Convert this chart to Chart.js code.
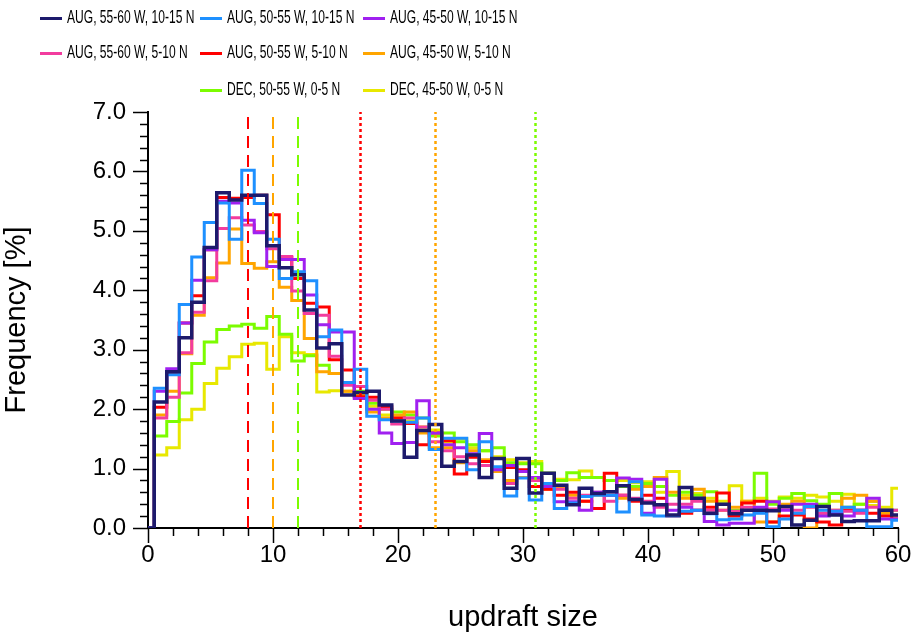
<!DOCTYPE html>
<html>
<head>
<meta charset="utf-8">
<script src="https://cdn.jsdelivr.net/npm/chart.js@4.4.1/dist/chart.umd.min.js"></script>
<style>
  body { margin: 0; background: #fff; font-family: "Liberation Sans", Arial, sans-serif; }
  #wrap { position: relative; width: 916px; height: 635px; }
  #legend { position: absolute; left: 0; top: 0; width: 916px; height: 110px; }
  .item { position: absolute; height: 20px; white-space: nowrap; }
  .item i { position: absolute; left: 0; top: -1px; width: 22px; height: 3px; }
  .item span { position: absolute; left: 27px; top: -12px; font-size: 19px; line-height: 22px; color: #000;
               transform: scaleX(0.635); transform-origin: 0 50%; }
</style>
</head>
<body>
<div id="wrap">
  <canvas id="myChart" width="916" height="635"></canvas>
  <div id="legend"></div>
</div>
<script>
// bin centres (updraft size)
const updraftSize = [0, 1, 2, 3, 4, 5, 6, 7, 8, 9, 10, 11, 12, 13, 14, 15, 16, 17, 18, 19, 20,
  21, 22, 23, 24, 25, 26, 27, 28, 29, 30, 31, 32, 33, 34, 35, 36, 37, 38, 39, 40,
  41, 42, 43, 44, 45, 46, 47, 48, 49, 50, 51, 52, 53, 54, 55, 56, 57, 58, 59, 60];

const labels = [
  "AUG, 55-60 W, 10-15 N", "AUG, 50-55 W, 10-15 N", "AUG, 45-50 W, 10-15 N",
  "AUG, 55-60 W, 5-10 N", "AUG, 50-55 W, 5-10 N", "AUG, 45-50 W, 5-10 N",
  "DEC, 50-55 W, 0-5 N", "DEC, 45-50 W, 0-5 N"
];
const colors = ["#1d1a6c", "#1e90ff", "#a020f0", "#f23c9e", "#ff0000", "#ffa500", "#7cfc00", "#e8e800"];

// frequency [%]
const aug5560n1015 = [0, 2.12, 2.63, 3.2, 3.8, 4.72, 5.64, 5.52, 5.6, 5.6, 4.75, 4.38, 4.26, 3.67, 3.03, 3.1,
  2.24, 2.28, 2.3, 2.07, 1.8, 1.19, 1.64, 1.74, 1.04, 1.12, 1.23, 0.85, 1.17, 0.67, 1.17,
  0.59, 0.92, 0.72, 0.39, 0.67, 0.58, 0.61, 0.71, 0.48, 0.42, 0.39, 0.22, 0.68, 0.5, 0.25,
  0.4, 0.24, 0.3, 0.3, 0.29, 0.36, 0.05, 0.13, 0.36, 0.22, 0.11, 0.12, 0.12, 0.3, 0.22];
const aug5055n1015 = [0, 2.35, 2.58, 3.76, 4.56, 5.14, 5.47, 4.86, 6.02, 5.46, 4.86, 4.2, 4.31, 4.16, 3.22, 3.33,
  2.45, 2.67, 1.88, 1.82, 1.8, 1.78, 1.85, 1.32, 1.51, 1.51, 0.98, 1.45, 1.03, 0.54, 0.84,
  0.47, 0.75, 0.33, 0.42, 0.53, 0.55, 0.55, 0.27, 0.78, 0.22, 0.2, 0.2, 0.28, 0.3, 0.24,
  0.14, 0.15, 0.22, 0.25, 0.02, 0.15, 0.25, 0.36, 0.3, 0.28, 0.35, 0.3, 0.02, 0.02, 0.13];
const aug4550n1015 = [0, 2.3, 2.68, 3.45, 4.17, 4.68, 5.5, 5.47, 5.18, 4.97, 4.4, 4.52, 4.52, 3.92, 3.42, 3.3,
  3.3, 2.18, 2.0, 1.6, 1.42, 1.44, 2.14, 1.6, 1.4, 1.35, 1.25, 1.59, 0.98, 1.05, 0.95,
  0.85, 0.7, 0.44, 0.44, 0.3, 0.6, 0.55, 0.84, 0.82, 0.25, 0.82, 0.3, 0.35, 0.3, 0.11,
  0.05, 0.08, 0.08, 0.35, 0.44, 0.3, 0.4, 0.4, 0.2, 0.25, 0.2, 0.3, 0.5, 0.15, 0.15];
const aug5560n510 = [0, 1.85, 2.2, 2.95, 3.63, 4.16, 5.04, 5.22, 5.1, 4.99, 4.7, 4.57, 3.99, 3.61, 3.58, 2.89,
  2.4, 2.38, 2.15, 2.0, 1.75, 1.85, 1.7, 1.45, 1.3, 1.2, 1.08, 1.05, 1.0, 0.75, 0.95,
  0.8, 0.7, 0.65, 0.5, 0.55, 0.6, 0.45, 0.55, 0.5, 0.45, 0.35, 0.4, 0.4, 0.45, 0.3,
  0.3, 0.28, 0.35, 0.3, 0.32, 0.35, 0.3, 0.35, 0.25, 0.3, 0.28, 0.25, 0.35, 0.3, 0.3];
const aug5055n510 = [0, 2.03, 2.62, 3.45, 3.91, 4.68, 5.56, 5.55, 5.56, 5.6, 5.27, 4.55, 4.2, 3.78, 3.72, 2.83,
  2.66, 2.21, 2.2, 2.04, 1.85, 1.76, 1.4, 1.6, 1.47, 0.91, 1.19, 1.12, 1.0, 1.02, 0.98,
  0.7, 0.65, 0.55, 0.6, 0.45, 0.33, 0.92, 0.55, 0.45, 0.55, 0.5, 0.2, 0.25, 0.3, 0.35,
  0.59, 0.2, 0.42, 0.45, 0.1, 0.2, 0.22, 0.15, 0.1, 0.05, 0.3, 0.3, 0.25, 0.2, 0.15];
const aug4550n510 = [0, 1.9, 2.3, 2.93, 3.58, 4.21, 4.46, 5.03, 4.45, 4.37, 4.48, 4.05, 3.83, 3.19, 2.63, 2.6,
  2.3, 2.25, 1.95, 1.85, 1.9, 1.95, 1.6, 1.35, 1.35, 1.1, 1.3, 1.15, 0.95, 0.8, 0.85,
  0.85, 0.65, 0.7, 0.55, 0.45, 0.55, 0.55, 0.5, 0.65, 0.7, 0.85, 0.6, 0.5, 0.65, 0.45,
  0.3, 0.35, 0.45, 0.1, 0.1, 0.4, 0.45, 0.0, 0.25, 0.3, 0.5, 0.55, 0.45, 0.25, 0.2];
const dec5055n05 = [0, 1.55, 1.79, 2.27, 2.77, 3.13, 3.34, 3.4, 3.43, 3.36, 3.56, 3.26, 2.81, 2.9, 2.74, 2.6,
  2.45, 2.3, 2.1, 2.0, 1.95, 1.9, 1.85, 1.55, 1.6, 1.45, 1.4, 1.3, 1.35, 1.1, 1.08,
  1.08, 0.92, 0.8, 0.93, 0.85, 0.85, 0.8, 0.7, 0.7, 0.75, 0.7, 0.55, 0.6, 0.55, 0.61,
  0.4, 0.3, 0.44, 0.92, 0.4, 0.5, 0.58, 0.46, 0.4, 0.58, 0.35, 0.4, 0.45, 0.3, 0.3];
const dec4550n05 = [0, 1.23, 1.35, 1.82, 2.0, 2.43, 2.69, 2.88, 3.09, 3.11, 2.67, 3.22, 2.95, 2.92, 2.29, 2.31,
  2.3, 2.25, 2.05, 1.9, 1.85, 1.8, 1.7, 1.65, 1.45, 1.5, 1.35, 1.3, 1.2, 1.15, 1.1,
  1.12, 0.92, 0.82, 0.81, 0.96, 0.85, 0.8, 0.8, 0.76, 0.78, 0.6, 0.95, 0.55, 0.58, 0.5,
  0.45, 0.71, 0.45, 0.5, 0.45, 0.52, 0.5, 0.55, 0.52, 0.45, 0.57, 0.4, 0.38, 0.35, 0.67];

const series = [aug5560n1015, aug5055n1015, aug4550n1015, aug5560n510, aug5055n510, aug4550n510, dec5055n05, dec4550n05];

// vertical markers: dashed and dotted
const dashedAt = [8, 10, 12];
const dottedAt = [17, 23, 31];
const markerColors = ["#ff0000", "#ffa500", "#7cfc00"];

const yTickLabels = [0, 1, 2, 3, 4, 5, 6, 7];
const xTickLabels = [0, 10, 20, 30, 40, 50, 60];

const FONT = "'Liberation Sans', Arial, sans-serif";

let datasets = [];
dashedAt.forEach((xv, i) => datasets.push({
  data: [{ x: xv, y: 0 }, { x: xv, y: 7 }],
  borderColor: markerColors[i], borderWidth: 2, borderDash: [12, 7], pointRadius: 0
}));
dottedAt.forEach((xv, i) => datasets.push({
  data: [{ x: xv, y: 0 }, { x: xv, y: 7 }],
  borderColor: markerColors[i], borderWidth: 2.5, borderDash: [3, 3], pointRadius: 0
}));
series.forEach((s, i) => datasets.push({
  label: labels[i],
  data: s.map((v, j) => ({ x: updraftSize[j], y: v })),
  borderColor: colors[i],
  borderWidth: i === 0 ? 3.5 : 3,
  stepped: "middle",
  pointRadius: 0
}));

// minor / major tick marks drawn outward like the original
const tickMarks = {
  id: "tickMarks",
  afterDraw(chart) {
    const { ctx, chartArea, scales } = chart;
    ctx.save();
    ctx.strokeStyle = "#000";
    ctx.lineWidth = 1.5;
    for (let k = 0; k <= 35; k++) {
      const py = Math.round(scales.y.getPixelForValue(k * 0.2)) + 0.5;
      const len = k % 5 === 0 ? 15 : 8;
      ctx.beginPath();
      ctx.moveTo(chartArea.left, py);
      ctx.lineTo(chartArea.left - len, py);
      ctx.stroke();
    }
    for (let k = 0; k <= 30; k++) {
      const px = Math.round(scales.x.getPixelForValue(k * 2)) + 0.5;
      const len = k % 5 === 0 ? 15 : 8;
      ctx.beginPath();
      ctx.moveTo(px, chartArea.bottom);
      ctx.lineTo(px, chartArea.bottom + len);
      ctx.stroke();
    }
    ctx.restore();
  }
};

new Chart(document.getElementById("myChart"), {
  type: "line",
  data: { datasets: datasets },
  options: {
    responsive: false,
    animation: false,
    events: [],
    layout: { padding: { top: 112, right: 18, left: 0, bottom: 0 } },
    plugins: { legend: { display: false }, tooltip: { enabled: false } },
    scales: {
      x: {
        type: "linear", min: 0, max: 60,
        grid: { display: false, drawTicks: false },
        border: { color: "#000", width: 2 },
        ticks: { stepSize: 10, padding: 13, color: "#000", font: { family: FONT, size: 24 },
                 callback: (v) => xTickLabels.includes(v) ? String(v) : "" },
        title: { display: true, text: "updraft size", color: "#000", font: { family: FONT, size: 29 },
                 padding: { top: 0, bottom: 0 } },
        afterFit: (s) => { s.height = 107; s.paddingLeft = 0; s.paddingRight = 0; }
      },
      y: {
        min: 0, max: 7,
        grid: { display: false, drawTicks: false },
        border: { color: "#000", width: 2 },
        ticks: { stepSize: 1, padding: 22, color: "#000", font: { family: FONT, size: 24 },
                 callback: (v) => yTickLabels.includes(v) ? v.toFixed(1) : "" },
        title: { display: true, text: "Frequency [%]", color: "#000", font: { family: FONT, size: 29 },
                 padding: { top: 0, bottom: 10 } },
        afterFit: (s) => { s.width = 148; s.paddingTop = 0; s.paddingBottom = 0; }
      }
    }
  },
  plugins: [tickMarks]
});

// legend: 3 columns, last row only in columns 2 and 3
const legendCols = [40, 200, 363];
const legendRows = [18, 53, 90];
const legendSlots = [[0, 0], [0, 1], [0, 2], [1, 0], [1, 1], [1, 2], [2, 1], [2, 2]];
const legend = document.getElementById("legend");
labels.forEach((lab, i) => {
  const [r, c] = legendSlots[i];
  const d = document.createElement("div");
  d.className = "item";
  d.style.left = legendCols[c] + "px";
  d.style.top = legendRows[r] + "px";
  d.innerHTML = '<i style="background:' + colors[i] + '"></i><span>' + lab + '</span>';
  legend.appendChild(d);
});
</script>
</body>
</html>
